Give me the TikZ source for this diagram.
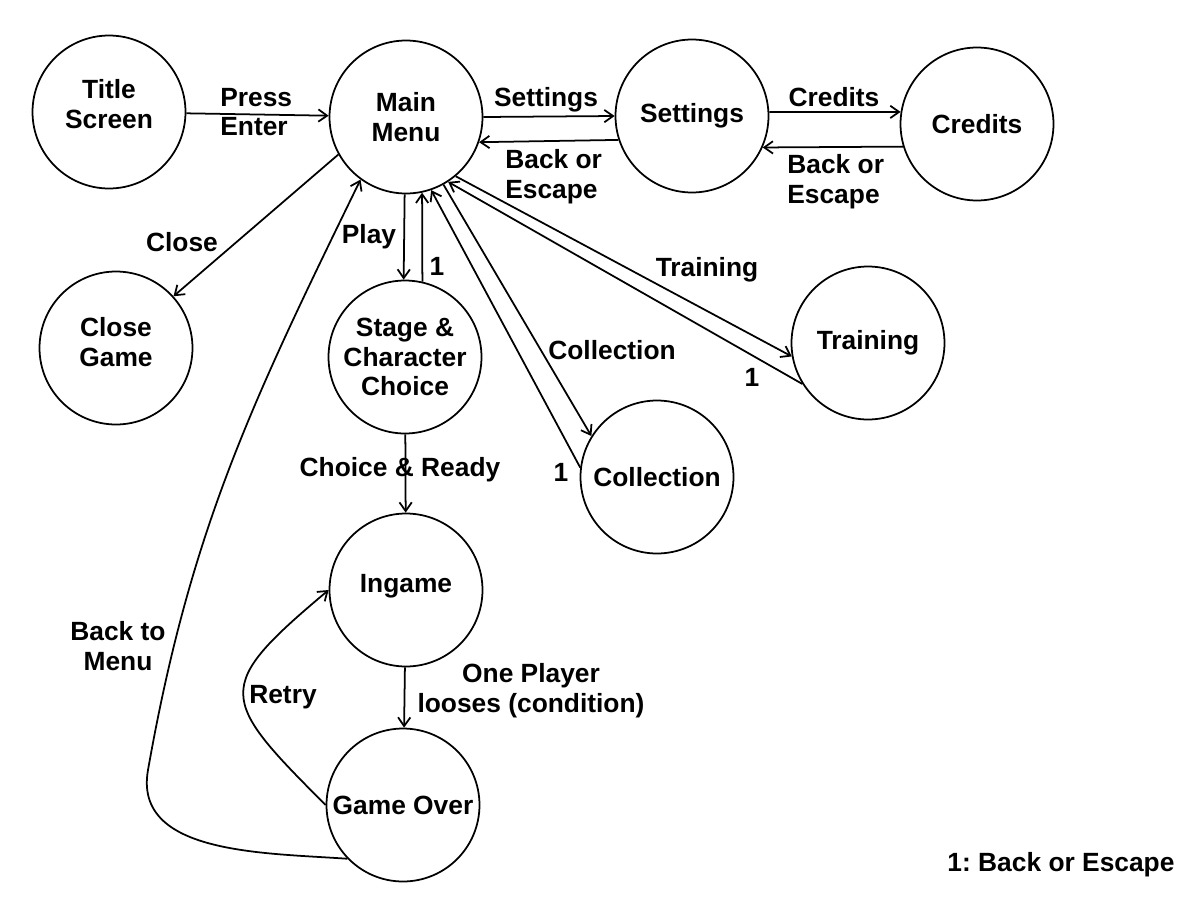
\documentclass[tikz,border=0pt]{standalone}
\usepackage{fontspec}
\setmainfont{Liberation Sans}
\usetikzlibrary{arrows.meta, calc}
\tikzstyle{state} = [circle, minimum size=3.06cm, inner sep=0pt, text centered, align=center, draw=black, line width=1pt]
\tikzstyle{lbl} = [inner sep=0pt, align=center]
\tikzstyle{arrow} = [line width=1pt,-{Straight Barb[length=5pt,width=7pt]}]

\begin{document}
\begin{tikzpicture}[x=0.02cm, y=-0.02cm, every node/.style={font=\fontsize{15}{17}\selectfont\bfseries}]
    \useasboundingbox (0,0) rectangle (1200,900);

    % Stati del gioco
    \node (title) [state, text depth=9pt] at (109,112) {Title\\Screen};
    \node (main) [state] at (406,117) {Main\\Menu};
    \node (settings) [state] at (692,116) {Settings};
    \node (credits) [state] at (977,124) {Credits};
    \node (close) [state, text depth=7pt] at (116,348) {Close\\Game};
    \node (stage) [state] at (405,357) {Stage \&\\Character\\Choice};
    \node (training) [state] at (868,343) {Training};
    \node (collection) [state] at (657,477) {Collection};
    \node (ingame) [state, text depth=7pt] at (406,590) {Ingame};
    \node (gameover) [state] at (403,805) {Game Over};
    \coordinate (bend) at (148,770);

    % Etichette delle transizioni
    \node [lbl, align=left, anchor=west] at (220,112) {Press\\Enter};
    \node [lbl] at (546,100) {Settings};
    \node [lbl, align=left, anchor=west] at (505,177) {Back or\\Escape};
    \node [lbl] at (834,97) {Credits};
    \node [lbl, align=left, anchor=west] at (787,182) {Back or\\Escape};
    \node [lbl] at (182,242) {Close};
    \node [lbl] at (369,237) {Play};
    \node [lbl] at (437,266) {1};
    \node [lbl] at (400,470) {Choice \& Ready};
    \node [lbl] at (531,691) {One Player\\looses (condition)};
    \node [lbl] at (283,697) {Retry};
    \node [lbl] at (118,646) {Back to\\Menu};
    \node [lbl] at (612,350) {Collection};
    \node [lbl] at (561,472) {1};
    \node [lbl] at (707,270) {Training};
    \node [lbl] at (752,377) {1};
    \node [lbl] at (1061,865) {1:\ Back or Escape};

    % Frecce
    \draw [arrow] (title) -- (main);
    \draw [arrow] (main.east) -- (settings.west);
    \draw [arrow] (settings.198) -- (main.-19);
    \draw [arrow] (settings.3) -- (credits.171);
    \draw [arrow] (credits.197) -- (settings.-24);
    \draw [arrow] (main.209) -- (close.42);
    \draw [arrow] (main.-91) -- (stage.91);
    \draw [arrow] (stage.77) -- (main.-78);
    \draw [arrow] (main.-50) -- (training.190);
    \draw [arrow] (training.212) -- (main.-57);
    \draw [arrow] (main.-61) -- (collection.148);
    \draw [arrow] (collection.173) -- (main.-71);
    \draw [arrow] (stage) -- (ingame);
    \draw [arrow] (ingame) -- (gameover);
    \draw [arrow] (gameover.west) to[out=135,in=220,looseness=1.8] (ingame.west);
    \draw [arrow] (gameover.224) to[out=176,in=260] (bend) to[out=80,in=244] (main.234);

\end{tikzpicture}
\end{document}
